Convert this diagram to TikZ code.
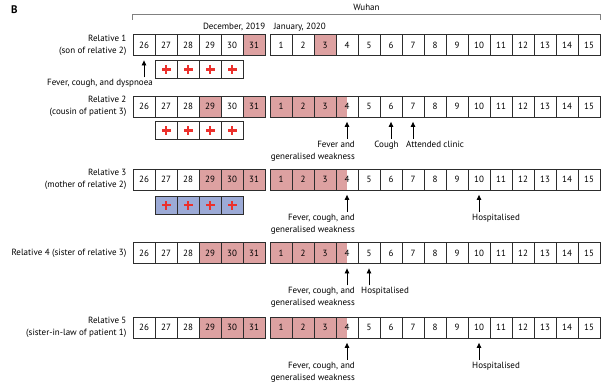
\documentclass[tikz,border=0pt]{standalone}
\usepackage{fontspec}
\setmainfont{PT Sans}
\usetikzlibrary{arrows.meta,positioning,calc}
\definecolor{illred}{RGB}{221,161,161}
\definecolor{testblue}{RGB}{156,170,214}
\definecolor{crossred}{RGB}{236,48,44}
\definecolor{framegray}{RGB}{45,45,45}
\tikzset{
  tl/day/.style={draw=framegray, line width=0.8pt, minimum width=22pt, minimum height=21pt, inner sep=0pt, font=\fontsize{9}{10}\selectfont},
  tl/ill/.style={fill=illred},
  tl/half/.style={path picture={\fill[illred] (path picture bounding box.south west) rectangle (path picture bounding box.north);}},
  tl/test/.style={draw=framegray, line width=0.8pt, minimum width=22pt, minimum height=18pt, inner sep=0pt, fill=white,
    path picture={
      \fill[crossred] ($(path picture bounding box.center)+(-4.5pt,-1.4pt)$) rectangle +(9pt,2.8pt);
      \fill[crossred] ($(path picture bounding box.center)+(-1.4pt,-4.5pt)$) rectangle +(2.8pt,9pt);}},
  tl/who/.style={anchor=east, align=right, inner sep=0pt, font=\fontsize{9}{12}\selectfont},
  tl/note/.style={inner sep=0pt, font=\fontsize{9}{12}\selectfont},
  tl/head/.style={inner sep=0pt, font=\fontsize{9}{10}\selectfont},
  tl/arrow/.style={-{Triangle[length=5pt,width=4.5pt]}, line width=0.8pt, shorten >=4.5pt},
  tl/bracket/.style={draw=gray, line width=1.2pt},
  % which days are shaded, per pattern
  tl/pa/d31/.style={tl/ill}, tl/pa/j3/.style={tl/ill},
  tl/pb/d29/.style={tl/ill}, tl/pb/d31/.style={tl/ill},
  tl/pb/j1/.style={tl/ill}, tl/pb/j2/.style={tl/ill}, tl/pb/j3/.style={tl/ill}, tl/pb/j4/.style={tl/half},
  tl/pc/d29/.style={tl/ill}, tl/pc/d30/.style={tl/ill}, tl/pc/d31/.style={tl/ill},
  tl/pc/j1/.style={tl/ill}, tl/pc/j2/.style={tl/ill}, tl/pc/j3/.style={tl/ill}, tl/pc/j4/.style={tl/half}
}
% row of day cells: id, y, shading pattern
\newcommand{\timeline}[3]{%
  \foreach \d [count=\i from 0] in {26,...,31}
    \node[tl/day, tl/#3/d\d/.try] (#1d\d) at (144+22*\i, #2) {\d};
  \foreach \d in {1,...,15}
    \node[tl/day, tl/#3/j\d/.try] (#1j\d) at (259+22*\d, #2) {\d};
}

\begin{document}
\begin{tikzpicture}[x=1pt, y=-1pt]
  \useasboundingbox (0,0) rectangle (609,391);
  \node[anchor=north west, inner sep=0pt, font=\fontsize{11}{12}\selectfont\bfseries] (panel) at (11,5) {B};

  \timeline{r1}{45}{pa}
  \timeline{r2}{106.5}{pb}
  \timeline{r3}{179.5}{pc}
  \timeline{r4}{253}{pc}
  \timeline{r5}{327.5}{pc}

  % header
  \coordinate (wl) at ([yshift=19.5pt]r1d26.north west);
  \coordinate (wr) at ([yshift=19.5pt]r1j15.north east);
  \draw[tl/bracket] ([yshift=-5pt]wl) -- (wl) -- (wr) -- ([yshift=-5pt]wr);
  \node[tl/head, anchor=base] (wuhan) at ([yshift=4pt]$(wl)!0.5!(wr)$) {Wuhan};
  \node[tl/head, anchor=base east] (dec) at ([yshift=5pt]r1d31.north east) {December, 2019};
  \node[tl/head, anchor=base west] (jan) at ([xshift=4pt,yshift=5pt]r1j1.north west) {January, 2020};

  % who
  \node[tl/who] (r1who) at ([xshift=-6pt]r1d26.west) {Relative 1\\(son of relative 2)};
  \node[tl/who] (r2who) at ([xshift=-6pt]r2d26.west) {Relative 2\\(cousin of patient 3)};
  \node[tl/who] (r3who) at ([xshift=-6pt]r3d26.west) {Relative 3\\(mother of relative 2)};
  \node[tl/who] (r4who) at ([xshift=-6pt]r4d26.west) {Relative 4 (sister of relative 3)};
  \node[tl/who] (r5who) at ([xshift=-6pt]r5d26.west) {Relative 5\\(sister-in-law of patient 1)};

  % tests
  \foreach \d in {27,...,30} {
    \node[tl/test] (r1t\d) at ([yshift=-24.5pt]r1d\d.center) {};
    \node[tl/test] (r2t\d) at ([yshift=-24pt]r2d\d.center) {};
    \node[tl/test, fill=testblue] (r3t\d) at ([yshift=-25.5pt]r3d\d.center) {};
  }

  % events
  \coordinate (r1a26) at ([yshift=-21.5pt]r1d26.south);
  \draw[tl/arrow] (r1a26) -- (r1d26);
  \node[tl/note, anchor=north east] (r1n26) at ([xshift=9pt,yshift=-2pt]r1a26) {Fever, cough, and dyspnoea};

  \coordinate (r2a4) at ([yshift=-21.5pt]r2j4.south);
  \coordinate (r2a6) at ([yshift=-21.5pt]r2j6.south);
  \coordinate (r2a7) at ([yshift=-21.5pt]r2j7.south);
  \draw[tl/arrow] (r2a4) -- (r2j4);
  \draw[tl/arrow] (r2a6) -- (r2j6);
  \draw[tl/arrow] (r2a7) -- (r2j7);
  \node[tl/note, anchor=north east, align=right] (r2n4) at ([xshift=8pt,yshift=-2pt]r2a4) {Fever and\\generalised weakness};
  \node[tl/note, anchor=north] (r2n6) at ([xshift=-4.5pt,yshift=-2pt]r2a6) {Cough};
  \node[tl/note, anchor=north west] (r2n7) at ([xshift=-7pt,yshift=-2pt]r2a7) {Attended clinic};

  \coordinate (r3a4) at ([yshift=-21.5pt]r3j4.south);
  \coordinate (r3a10) at ([yshift=-21.5pt]r3j10.south);
  \draw[tl/arrow] (r3a4) -- (r3j4);
  \draw[tl/arrow] (r3a10) -- (r3j10);
  \node[tl/note, anchor=north east, align=right] (r3n4) at ([xshift=8pt,yshift=-2pt]r3a4) {Fever, cough, and\\generalised weakness};
  \node[tl/note, anchor=north west] (r3n10) at ([xshift=-7pt,yshift=-2pt]r3a10) {Hospitalised};

  \coordinate (r4a4) at ([yshift=-21.5pt]r4j4.south);
  \coordinate (r4a5) at ([yshift=-21.5pt]r4j5.south);
  \draw[tl/arrow] (r4a4) -- (r4j4);
  \draw[tl/arrow] (r4a5) -- (r4j5);
  \node[tl/note, anchor=north east, align=right] (r4n4) at ([xshift=8pt,yshift=-2pt]r4a4) {Fever, cough, and\\generalised weakness};
  \node[tl/note, anchor=north west] (r4n5) at ([xshift=-8pt,yshift=-2pt]r4a5) {Hospitalised};

  \coordinate (r5a4) at ([yshift=-21.5pt]r5j4.south);
  \coordinate (r5a10) at ([yshift=-21.5pt]r5j10.south);
  \draw[tl/arrow] (r5a4) -- (r5j4);
  \draw[tl/arrow] (r5a10) -- (r5j10);
  \node[tl/note, anchor=north east, align=right] (r5n4) at ([xshift=8pt,yshift=-2pt]r5a4) {Fever, cough, and\\generalised weakness};
  \node[tl/note, anchor=north west] (r5n10) at ([xshift=-7pt,yshift=-2pt]r5a10) {Hospitalised};
\end{tikzpicture}
\end{document}
